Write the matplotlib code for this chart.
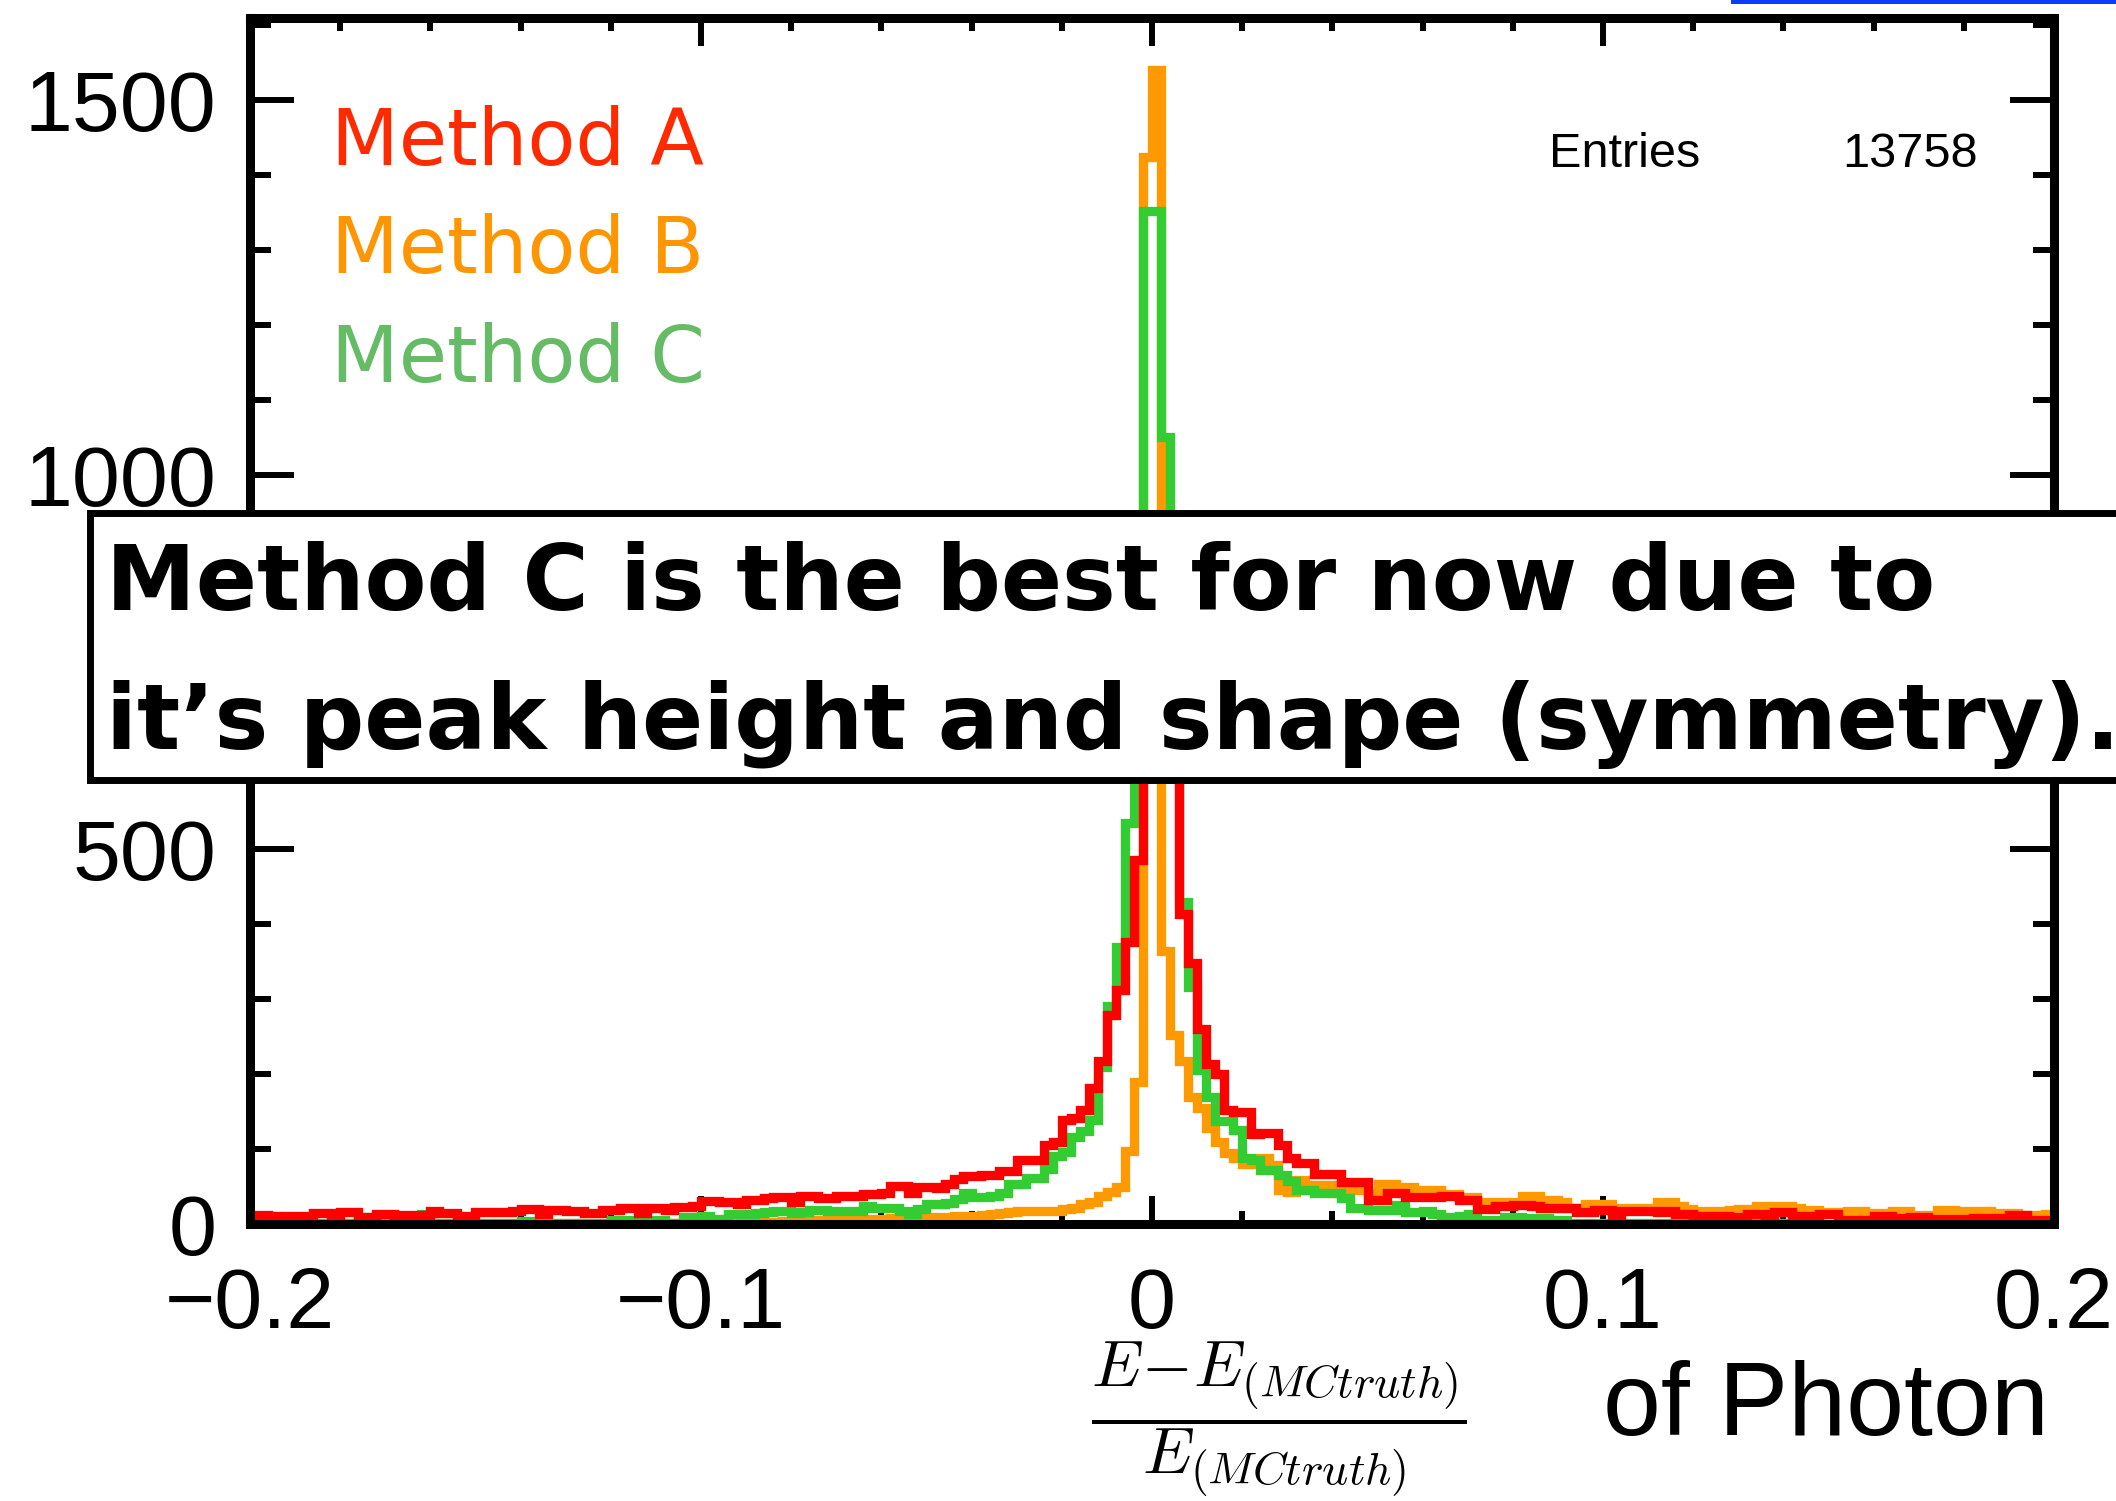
import matplotlib.pyplot as plt
import numpy as np
from matplotlib.patches import Rectangle
from matplotlib.ticker import MultipleLocator, FuncFormatter

plt.rcParams['mathtext.fontset'] = 'cm'

# 200 bins over [-0.2, 0.2]
bin_edges = np.linspace(-0.2, 0.2, 201)

method_a = np.array([
    12, 12, 11, 8, 11, 11, 11, 15, 15, 12, 16, 16, 10, 10, 14, 14, 10, 12, 12, 12,
    17, 15, 15, 11, 11, 16, 16, 16, 16, 17, 20, 20, 14, 19, 19, 17, 17, 15, 15, 19,
    19, 21, 21, 15, 21, 21, 19, 23, 23, 24, 31, 31, 29, 29, 27, 32, 32,
    35, 36, 36, 30, 38, 38, 35, 35, 37, 37, 37, 40, 40, 42, 51, 51, 41, 50, 50, 48,
    53, 60, 64, 64, 66, 66, 71, 71, 85, 85, 85, 105, 109, 139, 142, 152,
    182, 217, 279, 312, 376, 486,
    780, 900, 860, 650,
    414, 348, 260, 214, 200, 152, 150, 150, 120,
    121, 121, 105, 88, 82, 82, 67, 67, 67, 56, 56, 56, 32, 32, 42, 42, 36, 36, 36, 36,
    38, 38, 32, 32, 20, 20, 24, 24, 25, 25, 24, 22, 22, 22, 22, 16, 16, 19, 19, 12,
    17, 17, 17, 17, 16, 17, 13, 13, 11, 11, 11, 11, 9, 9, 14, 14, 11,
    16, 16, 11, 11, 11, 13, 13, 5, 5, 5, 5, 11, 11, 8, 8, 10, 10, 7, 7, 7,
    7, 7, 8, 8, 8, 5, 12, 12, 5, 5, 5])

method_b = np.array([
    0, 0, 1, 0, 0, 1, 0, 0, 0, 1, 0, 1, 0, 0, 1, 0, 0, 0, 1, 0,
    1, 0, 1, 1, 0, 1, 0, 1, 1, 0, 1, 1, 0, 1, 2, 1, 1, 0, 2, 1,
    1, 2, 1, 1, 2, 2, 1, 2, 2, 2,
    2, 3, 3, 3, 3, 4, 4,
    3, 3, 4, 4, 3, 4, 5, 4, 5, 5, 6, 6, 7, 7, 8, 8, 9, 9, 10, 10,
    10, 11, 11, 11, 12, 14, 15, 16, 17, 17, 17, 18, 18, 20, 22, 27, 30,
    37, 43, 50, 98, 190,
    1425, 1541,
    365, 252, 218, 170, 155, 128, 110, 95, 88, 80, 80,
    88, 79, 45, 43, 59, 52, 52, 52, 42, 45, 45, 45, 40, 54, 54, 49, 49, 44, 46, 46,
    40, 40, 36, 36, 29, 29, 30, 30, 30, 38, 38, 32, 32, 29, 22, 22, 27, 27, 27, 21,
    21, 21, 22, 22, 29, 29, 24, 20, 17, 17, 17, 17, 19, 20, 20, 24, 24,
    24, 24, 21, 19, 19, 16, 16, 13, 17, 17, 14, 15, 15, 18, 18, 12, 12, 12, 19, 19,
    14, 18, 18, 18, 10, 15, 15, 12, 12, 12, 14])

method_c = np.array([
    2, 2, 1, 1, 1, 2, 0, 2, 2, 0, 0, 1, 9, 1, 1, 1, 1, 1, 1, 13,
    1, 2, 1, 1, 2, 2, 1, 1, 2, 2, 4, 2, 1, 1, 1, 1, 2, 2, 1, 0,
    6, 6, 2, 3, 3, 6, 2, 2, 9, 9, 11, 7, 7, 13, 13, 14, 15,
    16, 18, 18, 15, 16, 19, 19, 17, 17, 17, 17, 24, 22, 22, 22, 18, 13, 20, 27, 27,
    28, 33, 42, 36, 36, 37, 42, 53, 53, 61, 61, 73, 91, 96, 116, 124, 139,
    210, 291, 370, 535, 820,
    1353, 1353, 1050, 720, 430,
    316, 205, 170, 138, 138, 125, 88, 86,
    72, 72, 66, 57, 45, 45, 41, 41, 41, 35, 21, 21, 19, 19, 19, 26, 16, 16, 18, 14,
    9, 9, 11, 14, 5, 5, 5, 9, 9, 8, 8, 8, 4, 5, 1, 1, 2, 2, 0, 1,
    1, 1, 1, 1, 1, 1, 0, 1, 0, 1, 1, 0, 0, 1, 1, 0, 1,
    1, 0, 1, 0, 2, 0, 0, 0, 1, 0, 0, 1, 0, 0, 1, 0, 0, 2, 0, 0,
    0, 0, 1, 0, 0, 1, 0, 0, 0, 1, 0])

labels = ['Method A', 'Method B', 'Method C']
label_colors = ['#ff2a00', '#ff9500', '#66bb66']
entries = 13758

W, H = 2116, 1501
fig = plt.figure(figsize=(W / 100, H / 100), dpi=100)
ax = fig.add_axes([250 / W, 1 - 1224 / H, (2054 - 250) / W, (1224 - 18) / H])

lw = 6.7
ax.stairs(method_b, bin_edges, baseline=None, color='#ff9900', lw=lw, zorder=2, joinstyle='miter')
ax.stairs(method_c, bin_edges, baseline=None, color='#33cc33', lw=lw, zorder=3, joinstyle='miter')
ax.stairs(method_a, bin_edges, baseline=None, color='#ff0000', lw=lw, zorder=4, joinstyle='miter')

ax.set_xlim(-0.2, 0.2)
ax.set_ylim(0, 1610)
ax.xaxis.set_major_locator(MultipleLocator(0.1))
ax.xaxis.set_minor_locator(MultipleLocator(0.02))
ax.yaxis.set_major_locator(MultipleLocator(500))
ax.yaxis.set_minor_locator(MultipleLocator(100))
ax.xaxis.set_major_formatter(FuncFormatter(lambda v, p: ('%g' % round(v, 3)).replace('-', '\u2212')))
ax.yaxis.set_major_formatter(FuncFormatter(lambda v, p: '%d' % v))

ax.tick_params(which='both', direction='in', top=True, right=True, width=4.3, color='black')
ax.tick_params(axis='x', which='major', length=20, pad=30, labelsize=62)
ax.tick_params(axis='x', which='minor', length=9.5)
ax.tick_params(axis='y', which='major', length=32, pad=24, labelsize=62)
ax.tick_params(axis='y', which='minor', length=15)
for lab in ax.get_xticklabels() + ax.get_yticklabels():
    lab.set_family('Liberation Sans')
for sp in ax.spines.values():
    sp.set_linewidth(6.5)
    sp.set_zorder(5)

# legend-like coloured labels
for i, (lab, col) in enumerate(zip(labels, label_colors)):
    fig.text(331 / W, 1 - (165 + 108.5 * i) / H, lab, color=col, fontsize=56.5,
             family='DejaVu Sans', va='baseline', ha='left')

# stats
fig.text(1549 / W, 1 - 167 / H, 'Entries', fontsize=35, family='Liberation Sans', va='baseline')
fig.text(1978 / W, 1 - 167 / H, str(entries), fontsize=35, family='Liberation Sans',
         va='baseline', ha='right')

# x label
fig.text(1279 / W, 1 - 1420 / H, r'$\dfrac{E\!-\!E_{(MCtruth)}}{E_{(MCtruth)}}$', fontsize=47,
         ha='center', va='center')
fig.text(1603 / W, 1 - 1435 / H, 'of Photon', fontsize=75, family='Liberation Sans', va='baseline')

# annotation box
fig.add_artist(Rectangle((90 / W, 1 - 780 / H), 1.05, (780 - 513) / H, transform=fig.transFigure,
                         facecolor='white', edgecolor='black', lw=5, zorder=10, clip_on=False))
fig.text(106 / W, 1 - 610 / H, 'Method C is the best for now due to', fontsize=65, weight='bold',
         family='DejaVu Sans', va='baseline', zorder=11)
fig.text(106 / W, 1 - 749 / H, 'it\u2019s peak height and shape (symmetry).', fontsize=65,
         weight='bold', family='DejaVu Sans', va='baseline', zorder=11)

# blue line fragment at the top right
fig.add_artist(Rectangle((1731 / W, 1 - 4 / H), 1.0, 4 / H, transform=fig.transFigure,
                         facecolor='#0a3bff', edgecolor='none', zorder=10, clip_on=False))

fig.savefig('out.png', dpi=100)
